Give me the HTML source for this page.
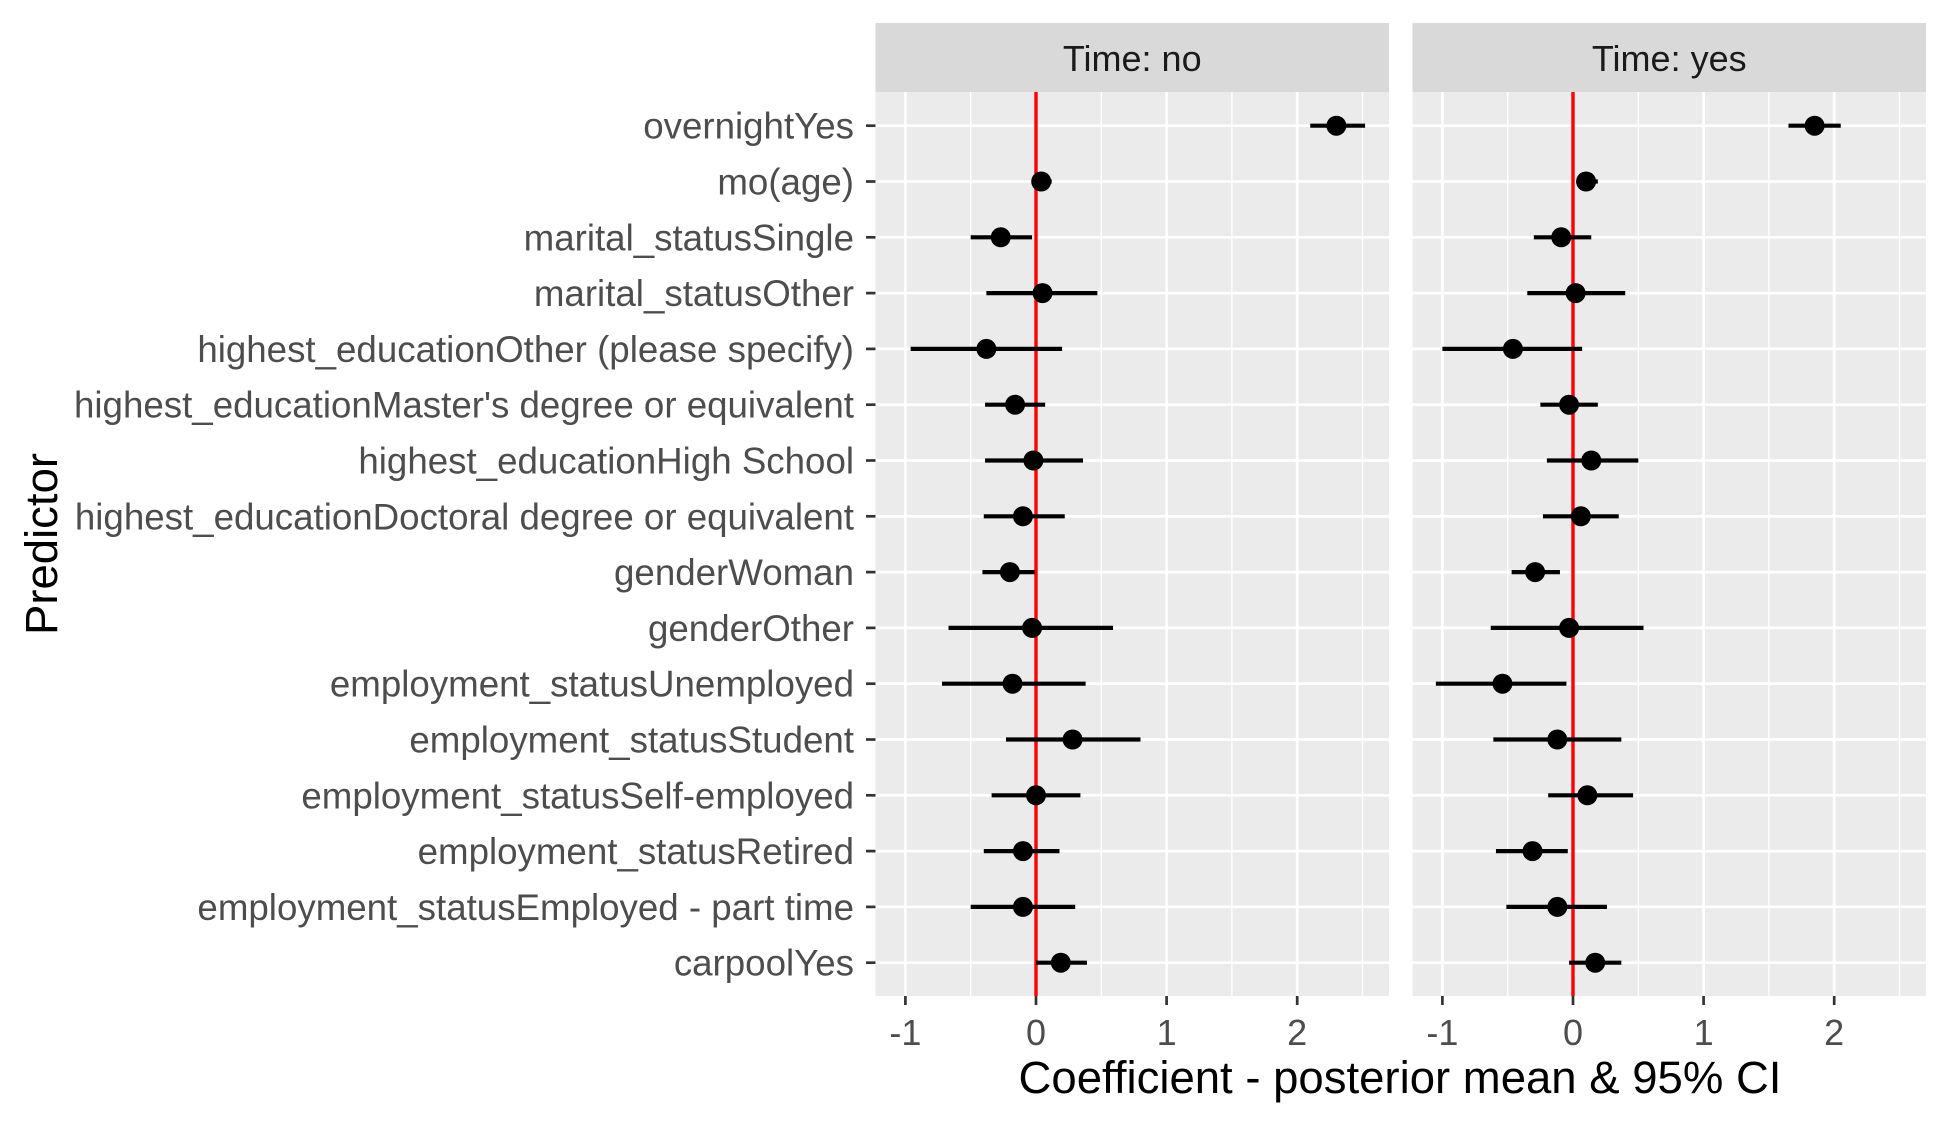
<!DOCTYPE html>
<html><head><meta charset="utf-8"><style>
body{margin:0;background:#fff;}
svg text{font-family:"Liberation Sans",Arial,sans-serif;}
</style></head><body>
<svg id="chart" width="1950" height="1125" xmlns="http://www.w3.org/2000/svg"></svg>
<script>
const predictors=["overnightYes","mo(age)","marital_statusSingle","marital_statusOther","highest_educationOther (please specify)","highest_educationMaster's degree or equivalent","highest_educationHigh School","highest_educationDoctoral degree or equivalent","genderWoman","genderOther","employment_statusUnemployed","employment_statusStudent","employment_statusSelf-employed","employment_statusRetired","employment_statusEmployed - part time","carpoolYes"];
const panels=["Time: no","Time: yes"];
const meanNo=[2.30,0.04,-0.27,0.05,-0.38,-0.16,-0.02,-0.10,-0.20,-0.03,-0.18,0.28,0.00,-0.10,-0.10,0.19];
const loNo=[2.10,-0.03,-0.50,-0.38,-0.96,-0.39,-0.39,-0.40,-0.41,-0.67,-0.72,-0.23,-0.34,-0.40,-0.50,0.00];
const hiNo=[2.52,0.12,-0.03,0.47,0.20,0.07,0.36,0.22,-0.01,0.59,0.38,0.80,0.34,0.18,0.30,0.39];
const meanYes=[1.85,0.10,-0.09,0.02,-0.46,-0.03,0.14,0.06,-0.29,-0.03,-0.54,-0.12,0.11,-0.31,-0.12,0.17];
const loYes=[1.65,0.03,-0.30,-0.35,-1.00,-0.25,-0.20,-0.23,-0.47,-0.63,-1.05,-0.61,-0.19,-0.59,-0.51,-0.03];
const hiYes=[2.05,0.19,0.14,0.40,0.07,0.19,0.50,0.35,-0.10,0.54,-0.05,0.37,0.46,-0.04,0.26,0.37];
const xTicks=[-1,0,1,2];
const xMinor=[-0.5,0.5,1.5,2.5];

const svg=document.getElementById('chart');
const NS="http://www.w3.org/2000/svg";
function mk(tag,attrs,parent){const e=document.createElementNS(NS,tag);for(const k in attrs)e.setAttribute(k,attrs[k]);(parent||svg).appendChild(e);return e;}
const xMin=-1.229,xMax=2.703,pTop=92,pBot=996;
const panelLeft=[875.5,1412.5],pW=513.5;
function xs(p,v){return panelLeft[p]+(v-xMin)/(xMax-xMin)*pW;}
const rowStep=55.8,row0=125.7;
function ys(i){return row0+i*rowStep;}
const data=[[meanNo,loNo,hiNo],[meanYes,loYes,hiYes]];

for(let p=0;p<2;p++){
  const g=mk('g',{});
  
  
  const bg=mk('rect',{x:panelLeft[p],y:pTop,width:pW,height:pBot-pTop,fill:'#EBEBEB'},g);
  
  
  const st=mk('rect',{x:panelLeft[p],y:23,width:pW,height:69,fill:'#D9D9D9'},g);
  
  
  const stt=mk('text',{x:panelLeft[p]+pW/2,y:71,'font-size':36,'text-anchor':'middle',fill:'#1A1A1A'},g);
  stt.textContent=panels[p];
  
  
  xMinor.forEach(v=>{const l=mk('line',{x1:xs(p,v),x2:xs(p,v),y1:pTop,y2:pBot,stroke:'#fff','stroke-width':1.4},g);
    });
  xTicks.forEach(v=>{const l=mk('line',{x1:xs(p,v),x2:xs(p,v),y1:pTop,y2:pBot,stroke:'#fff','stroke-width':2.7},g);
    
    const t=mk('line',{x1:xs(p,v),x2:xs(p,v),y1:pBot,y2:pBot+9,stroke:'#333','stroke-width':2.7},g);
    
    const tl=mk('text',{x:xs(p,v),y:1045,'font-size':36,'text-anchor':'middle',fill:'#4D4D4D'},g);
    tl.textContent=v;});
  predictors.forEach((n,i)=>{const l=mk('line',{x1:panelLeft[p],x2:panelLeft[p]+pW,y1:ys(i),y2:ys(i),stroke:'#fff','stroke-width':2.7},g);
    });
  const z=mk('line',{x1:xs(p,0),x2:xs(p,0),y1:pTop,y2:pBot,stroke:'#FF0000','stroke-width':3.4},g);
  
  const [m,lo,hi]=data[p];
  predictors.forEach((n,i)=>{
    const e=mk('line',{x1:xs(p,lo[i]),x2:xs(p,hi[i]),y1:ys(i),y2:ys(i),stroke:'#000','stroke-width':4.2},g);
    
    const c=mk('circle',{cx:xs(p,m[i]),cy:ys(i),r:10,fill:'#000'},g);
    
  });
}
predictors.forEach((n,i)=>{
  const t=mk('line',{x1:866,x2:875.5,y1:ys(i),y2:ys(i),stroke:'#333','stroke-width':2.7});
  
  const tl=mk('text',{x:854,y:ys(i)+13,'font-size':36.7,'text-anchor':'end',fill:'#4D4D4D'});
  tl.textContent=n;
});
const xt=mk('text',{x:1400,y:1093,'font-size':45.5,'text-anchor':'middle',fill:'#000'});
xt.textContent="Coefficient - posterior mean & 95% CI";

const yt=mk('text',{x:0,y:0,'font-size':45.5,'text-anchor':'middle',fill:'#000',transform:'translate(57,544) rotate(-90)'});
yt.textContent="Predictor";

</script>
</body></html>
